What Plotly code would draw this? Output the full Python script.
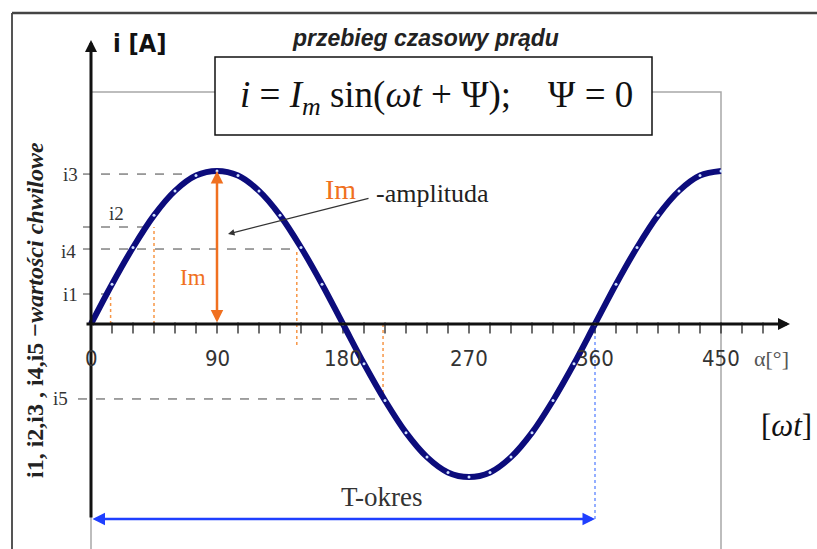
import plotly.graph_objects as go

# ---- data ----
angle_deg = [0, 15, 30, 45, 60, 75, 90, 105, 120, 135, 150, 165, 180, 195, 210, 225,
             240, 255, 270, 285, 300, 315, 330, 345, 360, 375, 390, 405, 420, 435, 450]
current = [0, 0.26, 0.5, 0.71, 0.87, 0.97, 1.0, 0.97, 0.87, 0.71, 0.5, 0.26, 0,
           -0.26, -0.5, -0.71, -0.87, -0.97, -1.0, -0.97, -0.87, -0.71, -0.5, -0.26,
           0, 0.26, 0.5, 0.71, 0.87, 0.97, 1.0]
tick_angles = [15 * k for k in range(1, 33)]
tick_labels = ["0", "90", "180", "270", "360", "450"]
tick_label_pos = [0, 90, 180, 270, 360, 450]
inst_names = ["i1", "i2", "i3", "i4", "i5"]
inst_values = [0.196, 0.634, 0.98, 0.49, -0.49]
inst_angles = [14, 45, 71, 147, 208.6]
period_deg = 360
amplitude = 1.0

W, H = 817, 549
X0PX, XSC = 91, 1.4      # pixel of 0 deg, px per deg
Y0PX, YSC = 324, 153     # pixel of zero current, px per unit
xr = [(0 - X0PX) / XSC, (W - X0PX) / XSC]
yr = [(Y0PX - H) / YSC, (Y0PX - 0) / YSC]

def px2x(p):
    return (p - X0PX) / XSC

def py2y(p):
    return (Y0PX - p) / YSC

fig = go.Figure()

shapes = []
# outer frame (paper)
shapes.append(dict(type="line", xref="paper", yref="paper", x0=12 / W, x1=12 / W,
                   y0=0, y1=1 - 13 / H, line=dict(color="#555", width=2)))
shapes.append(dict(type="line", xref="paper", yref="paper", x0=12 / W, x1=1,
                   y0=1 - 13 / H, y1=1 - 13 / H, line=dict(color="#444", width=2.5)))
# gray plot-area rectangle
top_gray = py2y(92)
shapes.append(dict(type="rect", x0=0, x1=450, y0=yr[0] - 1, y1=top_gray,
                   line=dict(color="#a8a8a8", width=1.5), layer="below"))
# dashed horizontal guides
ends_left = [px2x(83), px2x(83), px2x(83), px2x(83), px2x(78)]
for v, a, xl in zip(inst_values, inst_angles, ends_left):
    shapes.append(dict(type="line", x0=xl, x1=a, y0=v, y1=v,
                       line=dict(color="#444", width=1, dash="dash"), layer="below"))
# orange vertical guides
orange_bottom = [0, 0, py2y(345), inst_values[4]]
orange_top = [inst_values[0], inst_values[1], inst_values[3], 0]
orange_x = [inst_angles[0], inst_angles[1], inst_angles[3], inst_angles[4]]
for xo, y0, y1 in zip(orange_x, orange_bottom, orange_top):
    shapes.append(dict(type="line", x0=xo, x1=xo, y0=y0, y1=y1,
                       line=dict(color="#f79646", width=1.5, dash="dot"), layer="below"))
# blue dashed at one period
t_arrow_y = py2y(519)
shapes.append(dict(type="line", x0=period_deg, x1=period_deg, y0=t_arrow_y, y1=0,
                   line=dict(color="#4d79ff", width=1.2, dash="dot"), layer="below"))
# formula box
shapes.append(dict(type="rect", x0=px2x(215), x1=px2x(652), y0=py2y(135), y1=py2y(57),
                   line=dict(color="#111", width=1.5), fillcolor="white"))

# x-axis ticks
fig.add_trace(go.Scatter(x=tick_angles, y=[-4 / YSC] * len(tick_angles), mode="markers",
                         marker=dict(symbol="line-ns-open", size=8, color="#222",
                                     line=dict(color="#222", width=1.3)),
                         hoverinfo="skip", showlegend=False))
# sine curve
fig.add_trace(go.Scatter(x=angle_deg, y=current, mode="lines+markers",
                         line=dict(color="#0c0c7c", width=6, shape="spline"),
                         marker=dict(size=3, color="#cfe0ff"),
                         showlegend=False))

ann = []
# axes arrows
ann.append(dict(x=0, y=py2y(40), ax=0, ay=t_arrow_y, xref="x", yref="y", axref="x", ayref="y",
                text="", showarrow=True, arrowhead=2, arrowsize=0.8, arrowwidth=3,
                arrowcolor="#111"))
ann.append(dict(x=px2x(790), y=0, ax=px2x(85), ay=0, xref="x", yref="y", axref="x", ayref="y",
                text="", showarrow=True, arrowhead=2, arrowsize=0.8, arrowwidth=3,
                arrowcolor="#111"))
# Im arrow
ann.append(dict(x=90, y=amplitude, ax=90, ay=0, xref="x", yref="y", axref="x", ayref="y",
                text="", showarrow=True, arrowhead=2, arrowside="end+start", arrowsize=1,
                arrowwidth=2.5, arrowcolor="#f07020"))
# period arrow
ann.append(dict(x=period_deg, y=t_arrow_y, ax=0, ay=t_arrow_y, xref="x", yref="y",
                axref="x", ayref="y", text="", showarrow=True, arrowhead=2,
                arrowside="end+start", arrowsize=1, arrowwidth=2.5, arrowcolor="#1f3fff"))
# amplitude pointer
ann.append(dict(x=px2x(228), y=py2y(234), ax=px2x(370), ay=py2y(198), xref="x", yref="y",
                axref="x", ayref="y", text="", showarrow=True, arrowhead=2, arrowsize=1,
                arrowwidth=1.3, arrowcolor="#333"))

serif = "Liberation Serif, Times New Roman, serif"
narrow = "'Liberation Sans Narrow', 'DejaVu Sans Condensed', 'Roboto Condensed', 'Liberation Sans', sans-serif"
# tick labels
for lab, pos in zip(tick_labels, tick_label_pos):
    ann.append(dict(x=pos, y=py2y(358), text=lab, showarrow=False,
                    font=dict(family=narrow, size=22, color="#333")))
ann.append(dict(x=px2x(771), y=py2y(358), text="α[°]", showarrow=False,
                font=dict(family=serif, size=22, color="#555")))
ann.append(dict(x=px2x(786), y=py2y(425), text="[<i>ωt</i>]", showarrow=False,
                font=dict(family=serif, size=31, color="#111")))
# instantaneous value labels
lab_px = [(70, 294), (116, 213), (70, 174), (68, 251), (60, 398)]
for name, (lx, ly) in zip(inst_names, lab_px):
    ann.append(dict(x=px2x(lx), y=py2y(ly), text=name, showarrow=False,
                    font=dict(family=serif, size=19, color="#333")))
# Im labels
ann.append(dict(x=px2x(193), y=py2y(277), text="Im", showarrow=False,
                font=dict(family=serif, size=23, color="#f07020")))
ann.append(dict(x=px2x(340), y=py2y(189), text="Im", showarrow=False,
                font=dict(family=serif, size=28, color="#f07020")))
ann.append(dict(x=px2x(432), y=py2y(193), text="-amplituda", showarrow=False,
                font=dict(family=serif, size=26, color="#222")))
ann.append(dict(x=px2x(382), y=py2y(497), text="T-okres", showarrow=False,
                font=dict(family=serif, size=27, color="#333")))
# top labels
ann.append(dict(x=px2x(140), y=py2y(43), text="<b>i [A]</b>", showarrow=False,
                font=dict(family=narrow, size=25, color="#111")))
ann.append(dict(x=px2x(425), y=py2y(38), text="<b><i>przebieg czasowy prądu</i></b>",
                showarrow=False, font=dict(family="Liberation Sans, Arial, sans-serif",
                                           size=23, color="#222")))
ann.append(dict(x=px2x(436), y=py2y(97),
                text="<i>i</i> = <i>I<sub>m</sub></i> sin(<i>ωt</i> + Ψ);    Ψ = 0",
                showarrow=False, font=dict(family=serif, size=37, color="#111")))
# y-axis description
ann.append(dict(x=px2x(35), y=py2y(310),
                text="<b>i1, i2,i3 , i4,i5 −<i>wartości chwilowe</i></b>",
                textangle=-90, showarrow=False, font=dict(family=serif, size=24, color="#222")))

fig.update_layout(width=W, height=H, margin=dict(l=0, r=0, t=0, b=0),
                  paper_bgcolor="white", plot_bgcolor="white",
                  xaxis=dict(range=xr, visible=False, fixedrange=True),
                  yaxis=dict(range=yr, visible=False, fixedrange=True),
                  shapes=shapes, annotations=ann, showlegend=False)

fig.write_html("out.html", config={"displayModeBar": False},
               post_script="document.body.style.margin='0px';")
